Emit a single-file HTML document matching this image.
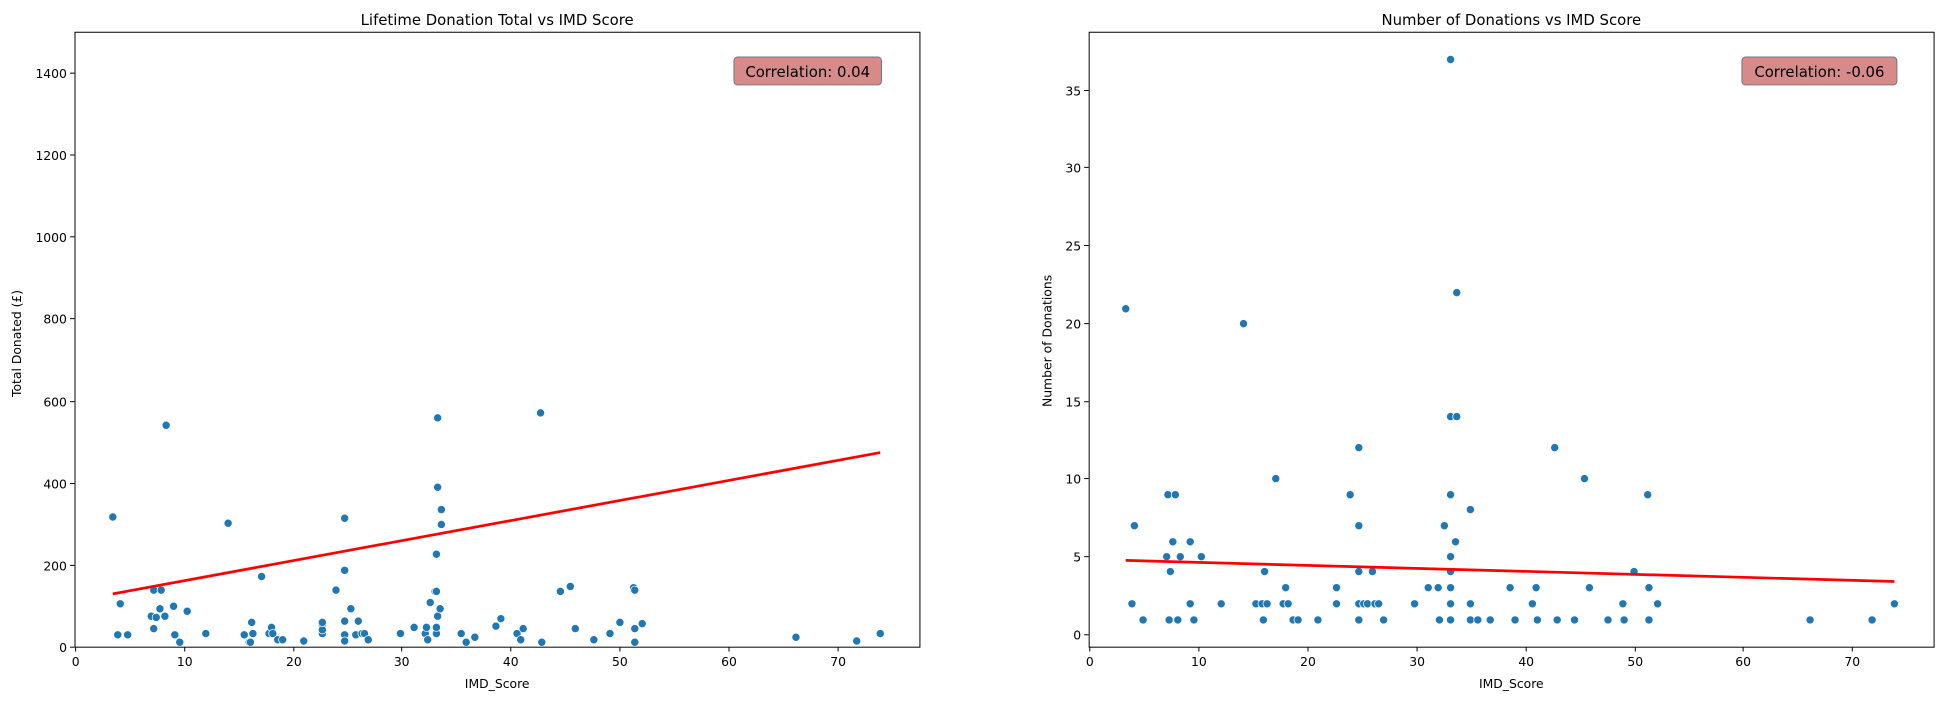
<!DOCTYPE html>
<html><head><meta charset="utf-8"><style>html,body{margin:0;padding:0;background:#fff}svg{display:block}</style></head>
<body>
<svg width="1944" height="701" viewBox="0 0 1568 565.4" xmlns="http://www.w3.org/2000/svg" font-family="'DejaVu Sans','Liberation Sans',sans-serif">
<rect width="1568" height="565.4" fill="#fff"/>
<!-- LEFT -->
<g font-size="10" fill="#000">
<text x="401" y="20" font-size="12" text-anchor="middle">Lifetime Donation Total vs IMD Score</text>
<g text-anchor="middle">
<text x="61" y="537">0</text><text x="149" y="537">10</text><text x="237" y="537">20</text><text x="324" y="537">30</text>
<text x="412" y="537">40</text><text x="500" y="537">50</text><text x="588" y="537">60</text><text x="676" y="537">70</text>
<text x="401" y="555">IMD_Score</text>
</g>
<g text-anchor="end">
<text x="54" y="526">0</text><text x="54" y="460">200</text><text x="54" y="394">400</text><text x="54" y="328">600</text>
<text x="54" y="261">800</text><text x="54" y="195">1000</text><text x="54" y="129">1200</text><text x="54" y="63">1400</text>
</g>
<text transform="translate(17,277) rotate(-90)" text-anchor="middle">Total Donated (£)</text>
</g>
<g stroke="#000" stroke-width="0.8">
<line x1="61" y1="522" x2="61" y2="525.5"/><line x1="149" y1="522" x2="149" y2="525.5"/><line x1="237" y1="522" x2="237" y2="525.5"/><line x1="324" y1="522" x2="324" y2="525.5"/><line x1="412" y1="522" x2="412" y2="525.5"/><line x1="500" y1="522" x2="500" y2="525.5"/><line x1="588" y1="522" x2="588" y2="525.5"/><line x1="676" y1="522" x2="676" y2="525.5"/>
<line x1="56.5" y1="522" x2="60" y2="522"/><line x1="56.5" y1="456" x2="60" y2="456"/><line x1="56.5" y1="390" x2="60" y2="390"/><line x1="56.5" y1="324" x2="60" y2="324"/><line x1="56.5" y1="257" x2="60" y2="257"/><line x1="56.5" y1="191" x2="60" y2="191"/><line x1="56.5" y1="125" x2="60" y2="125"/><line x1="56.5" y1="59" x2="60" y2="59"/>
</g>
<g fill="#1f77b4" stroke="#fff" stroke-width="0.6">
<circle cx="91" cy="417" r="3.3"/><circle cx="97" cy="487" r="3.3"/><circle cx="95" cy="512" r="3.3"/><circle cx="103" cy="512" r="3.3"/><circle cx="122" cy="497" r="3.3"/><circle cx="124" cy="476" r="3.3"/><circle cx="124" cy="507" r="3.3"/><circle cx="126" cy="498" r="3.3"/><circle cx="129" cy="491" r="3.3"/><circle cx="130" cy="476" r="3.3"/><circle cx="134" cy="539" r="0"/><circle cx="134" cy="343" r="3.3"/><circle cx="133" cy="497" r="3.3"/><circle cx="140" cy="489" r="3.3"/><circle cx="141" cy="512" r="3.3"/><circle cx="145" cy="518" r="3.3"/><circle cx="151" cy="493" r="3.3"/><circle cx="166" cy="511" r="3.3"/><circle cx="184" cy="422" r="3.3"/><circle cx="197" cy="512" r="3.3"/><circle cx="201" cy="518" r="3.3"/><circle cx="203" cy="502" r="3.3"/><circle cx="202" cy="518" r="3.3"/><circle cx="204" cy="511" r="3.3"/><circle cx="211" cy="465" r="3.3"/><circle cx="217" cy="511" r="3.3"/><circle cx="219" cy="506" r="3.3"/><circle cx="220" cy="511" r="3.3"/><circle cx="224" cy="516" r="3.3"/><circle cx="228" cy="516" r="3.3"/><circle cx="245" cy="517" r="3.3"/><circle cx="260" cy="511" r="3.3"/><circle cx="260" cy="504" r="3.3"/><circle cx="260" cy="508" r="3.3"/><circle cx="260" cy="502" r="3.3"/><circle cx="271" cy="476" r="3.3"/><circle cx="278" cy="418" r="3.3"/><circle cx="278" cy="512" r="3.3"/><circle cx="278" cy="517" r="3.3"/><circle cx="278" cy="501" r="3.3"/><circle cx="278" cy="460" r="3.3"/><circle cx="283" cy="491" r="3.3"/><circle cx="287" cy="512" r="3.3"/><circle cx="289" cy="501" r="3.3"/><circle cx="292" cy="511" r="3.3"/><circle cx="294" cy="511" r="3.3"/><circle cx="297" cy="516" r="3.3"/><circle cx="323" cy="511" r="3.3"/><circle cx="334" cy="506" r="3.3"/><circle cx="343" cy="511" r="3.3"/><circle cx="344" cy="506" r="3.3"/><circle cx="345" cy="516" r="3.3"/><circle cx="347" cy="486" r="3.3"/><circle cx="351" cy="477" r="3.3"/><circle cx="352" cy="511" r="3.3"/><circle cx="352" cy="506" r="3.3"/><circle cx="353" cy="337" r="3.3"/><circle cx="353" cy="393" r="3.3"/><circle cx="352" cy="447" r="3.3"/><circle cx="352" cy="477" r="3.3"/><circle cx="353" cy="497" r="3.3"/><circle cx="356" cy="411" r="3.3"/><circle cx="356" cy="423" r="3.3"/><circle cx="355" cy="491" r="3.3"/><circle cx="372" cy="511" r="3.3"/><circle cx="376" cy="518" r="3.3"/><circle cx="383" cy="514" r="3.3"/><circle cx="400" cy="505" r="3.3"/><circle cx="404" cy="499" r="3.3"/><circle cx="417" cy="511" r="3.3"/><circle cx="420" cy="516" r="3.3"/><circle cx="422" cy="507" r="3.3"/><circle cx="436" cy="333" r="3.3"/><circle cx="437" cy="518" r="3.3"/><circle cx="452" cy="477" r="3.3"/><circle cx="460" cy="473" r="3.3"/><circle cx="464" cy="507" r="3.3"/><circle cx="479" cy="516" r="3.3"/><circle cx="492" cy="511" r="3.3"/><circle cx="500" cy="502" r="3.3"/><circle cx="511" cy="474" r="3.3"/><circle cx="512" cy="476" r="3.3"/><circle cx="512" cy="507" r="3.3"/><circle cx="512" cy="518" r="3.3"/><circle cx="518" cy="503" r="3.3"/><circle cx="642" cy="514" r="3.3"/><circle cx="691" cy="517" r="3.3"/><circle cx="710" cy="511" r="3.3"/>
</g>
<line x1="91" y1="479" x2="710" y2="365" stroke="#f00" stroke-width="2.2"/>
<rect x="60.5" y="26" width="681.5" height="496" fill="none" stroke="#000" stroke-width="0.8"/>
<rect x="592" y="46" width="119" height="22.5" rx="3" fill="#d68a8a" stroke="#777" stroke-width="0.8"/>
<text x="651.5" y="62" font-size="12" text-anchor="middle" fill="#000">Correlation: 0.04</text>

<!-- RIGHT -->
<g font-size="10" fill="#000">
<text x="1219" y="20" font-size="12" text-anchor="middle">Number of Donations vs IMD Score</text>
<g text-anchor="middle">
<text x="879" y="537">0</text><text x="967" y="537">10</text><text x="1055" y="537">20</text><text x="1143" y="537">30</text>
<text x="1231" y="537">40</text><text x="1319" y="537">50</text><text x="1406" y="537">60</text><text x="1494" y="537">70</text>
<text x="1219" y="555">IMD_Score</text>
</g>
<g text-anchor="end">
<text x="872" y="516">0</text><text x="872" y="453">5</text><text x="872" y="390">10</text><text x="872" y="328">15</text>
<text x="872" y="265">20</text><text x="872" y="202">25</text><text x="872" y="139">30</text><text x="872" y="77">35</text>
</g>
<text transform="translate(848,275) rotate(-90)" text-anchor="middle">Number of Donations</text>
</g>
<g stroke="#000" stroke-width="0.8">
<line x1="879" y1="522" x2="879" y2="525.5"/><line x1="967" y1="522" x2="967" y2="525.5"/><line x1="1055" y1="522" x2="1055" y2="525.5"/><line x1="1143" y1="522" x2="1143" y2="525.5"/><line x1="1231" y1="522" x2="1231" y2="525.5"/><line x1="1319" y1="522" x2="1319" y2="525.5"/><line x1="1406" y1="522" x2="1406" y2="525.5"/><line x1="1494" y1="522" x2="1494" y2="525.5"/>
<line x1="874.5" y1="512" x2="878" y2="512"/><line x1="874.5" y1="449" x2="878" y2="449"/><line x1="874.5" y1="386" x2="878" y2="386"/><line x1="874.5" y1="324" x2="878" y2="324"/><line x1="874.5" y1="261" x2="878" y2="261"/><line x1="874.5" y1="198" x2="878" y2="198"/><line x1="874.5" y1="135" x2="878" y2="135"/><line x1="874.5" y1="73" x2="878" y2="73"/>
</g>
<g fill="#1f77b4" stroke="#fff" stroke-width="0.6">
<circle cx="908" cy="249" r="3.3"/><circle cx="913" cy="487" r="3.3"/><circle cx="915" cy="424" r="3.3"/><circle cx="922" cy="500" r="3.3"/><circle cx="941" cy="449" r="3.3"/><circle cx="943" cy="500" r="3.3"/><circle cx="944" cy="461" r="3.3"/><circle cx="942" cy="399" r="3.3"/><circle cx="948" cy="399" r="3.3"/><circle cx="946" cy="437" r="3.3"/><circle cx="950" cy="500" r="3.3"/><circle cx="952" cy="449" r="3.3"/><circle cx="960" cy="437" r="3.3"/><circle cx="960" cy="487" r="3.3"/><circle cx="963" cy="500" r="3.3"/><circle cx="969" cy="449" r="3.3"/><circle cx="985" cy="487" r="3.3"/><circle cx="1003" cy="261" r="3.3"/><circle cx="1013" cy="487" r="3.3"/><circle cx="1018" cy="487" r="3.3"/><circle cx="1019" cy="500" r="3.3"/><circle cx="1020" cy="461" r="3.3"/><circle cx="1022" cy="487" r="3.3"/><circle cx="1029" cy="386" r="3.3"/><circle cx="1035" cy="487" r="3.3"/><circle cx="1037" cy="474" r="3.3"/><circle cx="1039" cy="487" r="3.3"/><circle cx="1043" cy="500" r="3.3"/><circle cx="1047" cy="500" r="3.3"/><circle cx="1063" cy="500" r="3.3"/><circle cx="1078" cy="487" r="3.3"/><circle cx="1078" cy="474" r="3.3"/><circle cx="1089" cy="399" r="3.3"/><circle cx="1096" cy="361" r="3.3"/><circle cx="1096" cy="424" r="3.3"/><circle cx="1096" cy="461" r="3.3"/><circle cx="1096" cy="487" r="3.3"/><circle cx="1096" cy="500" r="3.3"/><circle cx="1100" cy="487" r="3.3"/><circle cx="1103" cy="487" r="3.3"/><circle cx="1107" cy="461" r="3.3"/><circle cx="1109" cy="487" r="3.3"/><circle cx="1112" cy="487" r="3.3"/><circle cx="1116" cy="500" r="3.3"/><circle cx="1141" cy="487" r="3.3"/><circle cx="1152" cy="474" r="3.3"/><circle cx="1160" cy="474" r="3.3"/><circle cx="1161" cy="500" r="3.3"/><circle cx="1165" cy="424" r="3.3"/><circle cx="1170" cy="48" r="3.3"/><circle cx="1170" cy="336" r="3.3"/><circle cx="1175" cy="336" r="3.3"/><circle cx="1170" cy="399" r="3.3"/><circle cx="1170" cy="449" r="3.3"/><circle cx="1170" cy="461" r="3.3"/><circle cx="1170" cy="474" r="3.3"/><circle cx="1170" cy="487" r="3.3"/><circle cx="1170" cy="500" r="3.3"/><circle cx="1174" cy="437" r="3.3"/><circle cx="1175" cy="236" r="3.3"/><circle cx="1186" cy="411" r="3.3"/><circle cx="1186" cy="487" r="3.3"/><circle cx="1186" cy="500" r="3.3"/><circle cx="1192" cy="500" r="3.3"/><circle cx="1202" cy="500" r="3.3"/><circle cx="1218" cy="474" r="3.3"/><circle cx="1222" cy="500" r="3.3"/><circle cx="1236" cy="487" r="3.3"/><circle cx="1239" cy="474" r="3.3"/><circle cx="1240" cy="500" r="3.3"/><circle cx="1254" cy="361" r="3.3"/><circle cx="1256" cy="500" r="3.3"/><circle cx="1270" cy="500" r="3.3"/><circle cx="1278" cy="386" r="3.3"/><circle cx="1282" cy="474" r="3.3"/><circle cx="1297" cy="500" r="3.3"/><circle cx="1309" cy="487" r="3.3"/><circle cx="1310" cy="500" r="3.3"/><circle cx="1318" cy="461" r="3.3"/><circle cx="1329" cy="399" r="3.3"/><circle cx="1330" cy="474" r="3.3"/><circle cx="1330" cy="500" r="3.3"/><circle cx="1337" cy="487" r="3.3"/><circle cx="1460" cy="500" r="3.3"/><circle cx="1510" cy="500" r="3.3"/><circle cx="1528" cy="487" r="3.3"/>
</g>
<line x1="908" y1="452" x2="1528" y2="469" stroke="#f00" stroke-width="2.2"/>
<rect x="878.5" y="26" width="681.5" height="496" fill="none" stroke="#000" stroke-width="0.8"/>
<rect x="1405" y="46" width="125" height="22.5" rx="3" fill="#d68a8a" stroke="#777" stroke-width="0.8"/>
<text x="1467.5" y="62" font-size="12" text-anchor="middle" fill="#000">Correlation: -0.06</text>
</svg>
</body></html>
